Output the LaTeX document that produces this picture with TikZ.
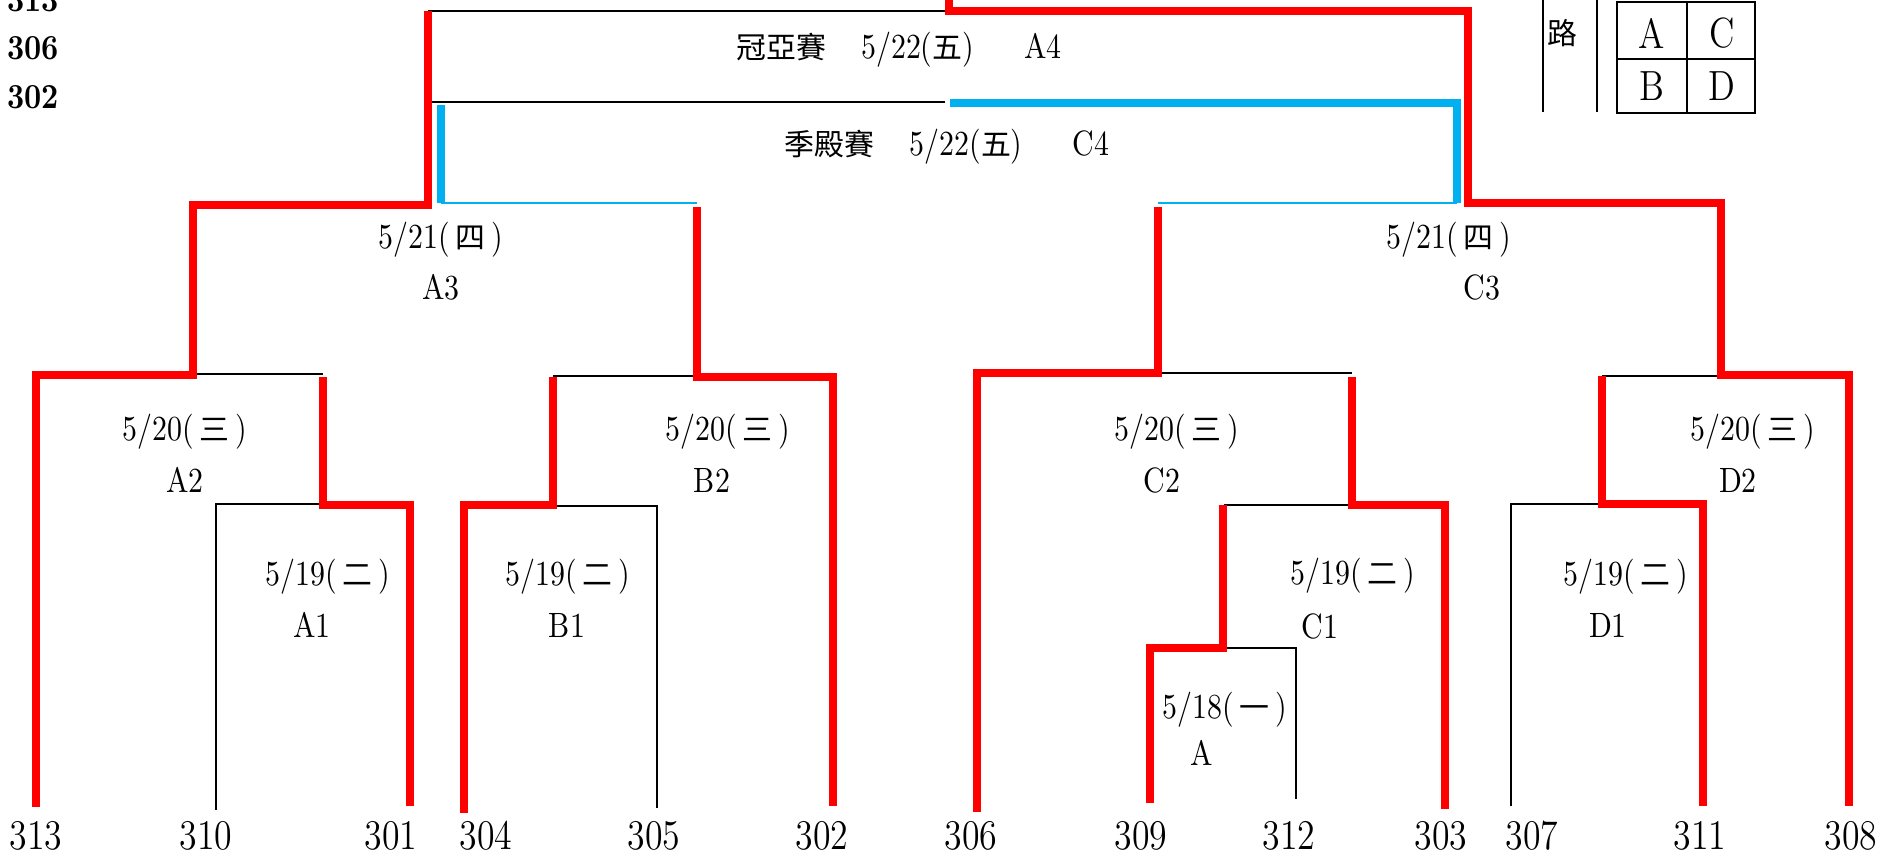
\documentclass[tikz,border=0pt]{standalone}
\usepackage{fontspec}
\setmainfont{Latin Modern Roman}[FakeStretch=0.85]
\newfontfamily\cjk{Noto Sans CJK TC}[Scale=0.85]
\definecolor{lineblue}{HTML}{00B0F0}
\newcommand{\zh}[1]{{\cjk #1}}
\newcommand{\wkday}[1]{(\,\zh{#1}\,)}
\tikzset{
    redpath/.style={draw=red, line width=2.1pt},
    bluepath/.style={draw=lineblue, line width=2.2pt},
    bluethin/.style={draw=lineblue, line width=0.7pt},
    blackpath/.style={draw=black, line width=0.55pt},
    team/.style={font=\large, inner sep=0pt},
    datelbl/.style={inner sep=0pt}
}

\begin{document}
\begin{tikzpicture}[x=0.01cm, y=-0.01cm]
	
	\useasboundingbox (0,0) rectangle (1877,853);
	
	% thin black lines
	\draw[blackpath] (428,11) -- (945,11);
	\draw[blackpath] (432,102) -- (945,102);
	\draw[blackpath] (193,374) -- (323,374);
	\draw[blackpath] (216,810) -- (216,504) -- (323,504);
	\draw[blackpath] (553,376) -- (697,376);
	\draw[blackpath] (553,506) -- (657,506) -- (657,808);
	\draw[blackpath] (1158,373) -- (1352,373);
	\draw[blackpath] (1224,505) -- (1352,505);
	\draw[blackpath] (1222,648) -- (1296,648) -- (1296,799);
	\draw[blackpath] (1602,376) -- (1721,376);
	\draw[blackpath] (1511,806) -- (1511,504) -- (1602,504);
	
	% blue
	\draw[bluepath] (441,203) -- (441,105);
	\draw[bluepath] (950,103) -- (1457,103) -- (1457,203);
	\draw[bluethin] (441,203) -- (697,203);
	\draw[bluethin] (1158,203) -- (1457,203);
	
	% red
	\draw[redpath] (949,0) -- (949,11) -- (1468,11) -- (1468,203) -- (1721,203)
	    -- (1721,375) -- (1849,375) -- (1849,806);
	\draw[redpath] (428,11) -- (428,205) -- (193,205) -- (193,375) -- (36,375) -- (36,807);
	\draw[redpath] (323,377) -- (323,505) -- (410,505) -- (410,806);
	\draw[redpath] (697,207) -- (697,377) -- (833,377) -- (833,806);
	\draw[redpath] (553,377) -- (553,505) -- (464,505) -- (464,813);
	\draw[redpath] (1158,207) -- (1158,373) -- (977,373) -- (977,812);
	\draw[redpath] (1352,377) -- (1352,505) -- (1445,505) -- (1445,809);
	\draw[redpath] (1223,505) -- (1223,648) -- (1150,648) -- (1150,803);
	\draw[redpath] (1602,376) -- (1602,504) -- (1703,504) -- (1703,806);
	
	% finals
	\node[datelbl] (final) at (899,50) {\zh{冠亞賽}\hspace{0.35cm}5/22(\zh{五})\hspace{0.5cm}A4};
	\node[datelbl] (third) at (947,147) {\zh{季殿賽}\hspace{0.35cm}5/22(\zh{五})\hspace{0.5cm}C4};
	
	% rounds
	\node[datelbl] (dA3) at (441,240) {5/21\wkday{四}};
	\node[datelbl] (mA3) at (441,287) {A3};
	\node[datelbl] (dC3) at (1449,240) {5/21\wkday{四}};
	\node[datelbl] (mC3) at (1482,287) {C3};
	\node[datelbl] (dA2) at (185,432) {5/20\wkday{三}};
	\node[datelbl] (mA2) at (185,480) {A2};
	\node[datelbl] (dB2) at (728,432) {5/20\wkday{三}};
	\node[datelbl] (mB2) at (712,480) {B2};
	\node[datelbl] (dC2) at (1177,432) {5/20\wkday{三}};
	\node[datelbl] (mC2) at (1162,480) {C2};
	\node[datelbl] (dD2) at (1753,432) {5/20\wkday{三}};
	\node[datelbl] (mD2) at (1738,480) {D2};
	\node[datelbl] (dA1) at (328,577) {5/19\wkday{二}};
	\node[datelbl] (mA1) at (312,625) {A1};
	\node[datelbl] (dB1) at (568,577) {5/19\wkday{二}};
	\node[datelbl] (mB1) at (567,625) {B1};
	\node[datelbl] (dC1) at (1353,576) {5/19\wkday{二}};
	\node[datelbl] (mC1) at (1320,626) {C1};
	\node[datelbl] (dD1) at (1626,577) {5/19\wkday{二}};
	\node[datelbl] (mD1) at (1608,625) {D1};
	\node[datelbl] (dA0) at (1225,710) {5/18\wkday{一}};
	\node[datelbl] (mA0) at (1202,753) {A};
	
	% teams
	\node[team] (t313) at (36,836) {313};
	\node[team] (t310) at (206,836) {310};
	\node[team] (t301) at (391,836) {301};
	\node[team] (t304) at (486,836) {304};
	\node[team] (t305) at (654,836) {305};
	\node[team] (t302) at (822,836) {302};
	\node[team] (t306) at (971,836) {306};
	\node[team] (t309) at (1141,836) {309};
	\node[team] (t312) at (1289,836) {312};
	\node[team] (t303) at (1441,836) {303};
	\node[team] (t307) at (1532,836) {307};
	\node[team] (t311) at (1700,836) {311};
	\node[team] (t308) at (1851,836) {308};
	
	% seeds top left
	\node[datelbl, font=\bfseries] (s313) at (33,0) {313};
	\node[datelbl, font=\bfseries] (s306) at (33,48) {306};
	\node[datelbl, font=\bfseries] (s302) at (33,97) {302};
	
	% legend
	\draw[blackpath] (1543,0) -- (1543,112);
	\draw[blackpath] (1597,0) -- (1597,112);
	\node[datelbl] (road) at (1562,33) {\zh{路}};
	\draw[blackpath] (1617,2) rectangle (1755,113);
	\draw[blackpath] (1687,2) -- (1687,113);
	\draw[blackpath] (1617,59) -- (1755,59);
	\node[team] (zA) at (1652,33) {A};
	\node[team] (zC) at (1722,33) {C};
	\node[team] (zB) at (1652,86) {B};
	\node[team] (zD) at (1722,86) {D};
	
\end{tikzpicture}
\end{document}
